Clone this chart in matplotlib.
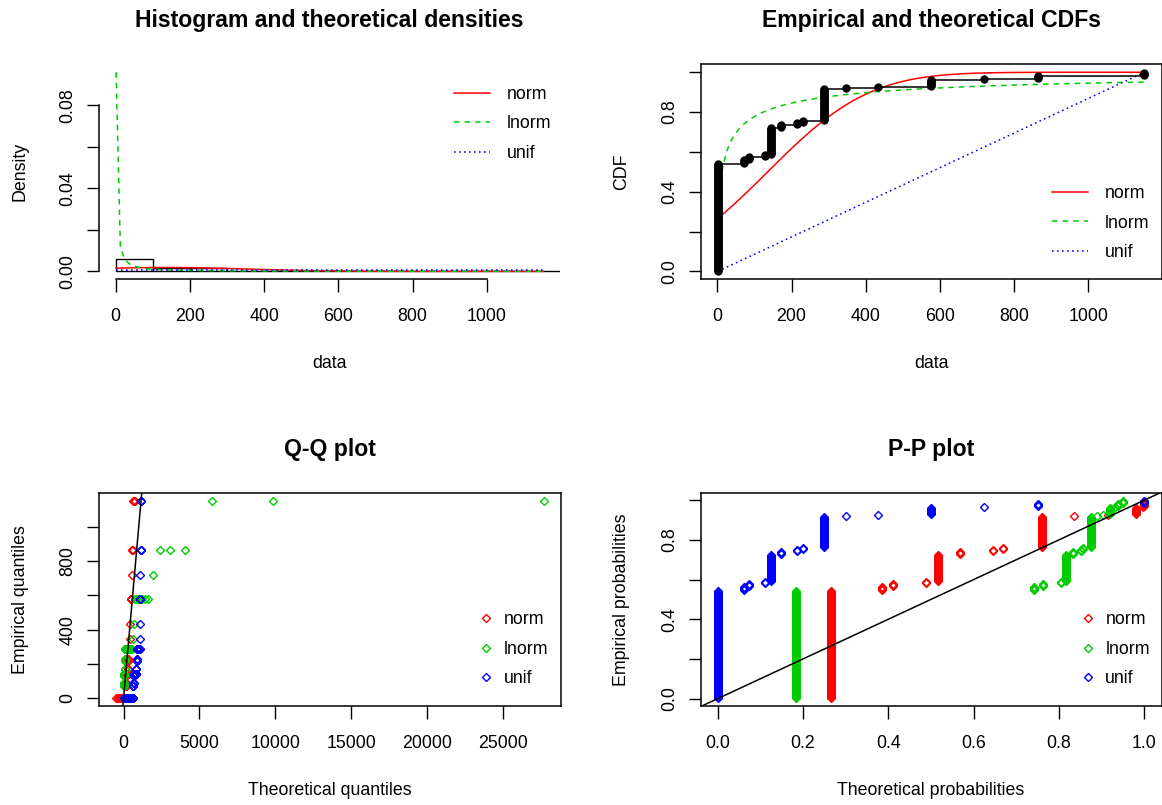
import numpy as np
import matplotlib
matplotlib.use("Agg")
import matplotlib.pyplot as plt
from statistics import NormalDist

# observed sample: distinct values and how often each occurs
obs_values = [1, 72, 86.4, 129.6, 144, 172.8, 216, 230.4, 288, 345.6, 432, 576, 720, 864, 1152]
obs_counts = [108, 4, 3, 2, 27, 3, 2, 2, 32, 1, 1, 7, 1, 3, 3]

dist_names = ["norm", "lnorm", "unif"]
hist_breaks = [0, 100, 200, 300, 400, 500, 600, 700, 800, 900, 1000, 1100, 1200]

dens_ticks = [0, 0.02, 0.04, 0.06, 0.08]
dens_labels = ["0.00", "", "0.04", "", "0.08"]
prob_ticks = [0, 0.2, 0.4, 0.6, 0.8, 1.0]
prob_labels = ["0.0", "", "0.4", "", "0.8", ""]
pp_xlabels = ["0.0", "0.2", "0.4", "0.6", "0.8", "1.0"]
data_ticks = [0, 200, 400, 600, 800, 1000]
qq_xticks = [0, 5000, 10000, 15000, 20000, 25000]
qq_yticks = [0, 200, 400, 600, 800, 1000]
qq_ylabels = ["0", "", "400", "", "800", ""]

colors = ["#FF0000", "#00CD00", "#0000FF"]
styles = ["-", (0, (4.0, 3.6)), (0, (1.2, 2.4))]

plt.rcParams['font.family'] = ['Liberation Sans', 'DejaVu Sans']
plt.rcParams['lines.scale_dashes'] = False

W, H = 1162, 805
FS = 12.8

# ---- fits (maximum likelihood, as fitdistr does)
data = np.sort(np.repeat(obs_values, obs_counts))
n = len(data)
pp = (np.arange(1, n + 1) - 0.5) / n
mu, sd = data.mean(), data.std()
logd = np.log(data)
mlog, slog = logd.mean(), logd.std()
umin, umax = data.min(), data.max()
nd = NormalDist(mu, sd)
ld = NormalDist(mlog, slog)


def pdf(k, x):
    if k == 0:
        return np.array([nd.pdf(v) for v in x])
    if k == 1:
        return np.array([ld.pdf(np.log(v)) / v for v in x])
    return np.where((x >= umin) & (x <= umax), 1.0 / (umax - umin), 0.0)


def cdf(k, x):
    if k == 0:
        return np.array([nd.cdf(v) for v in x])
    if k == 1:
        return np.array([ld.cdf(np.log(v)) for v in x])
    return np.clip((x - umin) / (umax - umin), 0, 1)


def qf(k, p):
    if k == 0:
        return np.array([nd.inv_cdf(v) for v in p])
    if k == 1:
        return np.exp([ld.inv_cdf(v) for v in p])
    return umin + p * (umax - umin)


def rlim(lo, hi):
    d = (hi - lo) * 0.04
    return lo - d, hi + d


def px_axes(l, t, r, b):
    return fig.add_axes([l / W, 1 - b / H, (r - l) / W, (b - t) / H])


def style_axes(ax):
    ax.tick_params(direction='out', length=9, width=1.0, labelsize=FS)
    ax.tick_params(axis='x', pad=12)
    ax.tick_params(axis='y', pad=7.5)
    for sp in ax.spines.values():
        sp.set_linewidth(1.1)


def ylabels_rot(ax, ticks, labels):
    ax.set_yticks(ticks)
    ax.set_yticklabels(labels, rotation=90, va='center', ha='right')


def add_legend(ax, handles, x, y, markers=False):
    if markers:
        hl, hp = 1.0, 0.5
    else:
        hl, hp = 2.05, 0.95
    ax.legend(handles, dist_names, loc='center left',
              bbox_to_anchor=(x / W, 1 - y / H), bbox_transform=fig.transFigure,
              frameon=False, borderpad=0, borderaxespad=0, handlelength=hl,
              handletextpad=hp, labelspacing=0.7, fontsize=FS, numpoints=1)


def labels(ax_box, title, xlabel, ylabel):
    l, t, r, b = ax_box
    fig.text((l + r) / 2 / W, 1 - (t - 37) / H, title, ha='center', va='baseline',
             fontsize=16.6, fontweight='bold')
    fig.text((l + r) / 2 / W, 1 - (b + 88.7) / H, xlabel, ha='center', va='baseline',
             fontsize=FS)
    fig.text((l - 74.5) / W, 1 - (t + b) / 2 / H, ylabel, rotation=90,
             rotation_mode='anchor', ha='center', va='baseline', fontsize=FS)


fig = plt.figure(figsize=(W / 100, H / 100), dpi=100)
fig.patch.set_facecolor('white')

box1 = (99, 64.3, 560.4, 279.3)
box2 = (700.7, 64.3, 1161.5, 279.3)
box3 = (99.3, 492.7, 561.3, 706)
box4 = (700.7, 492.7, 1161.5, 706)

# ---- histogram and densities
ax = px_axes(*box1)
grid = np.linspace(umin, umax, 101)
hist_h, _ = np.histogram(data, bins=hist_breaks, density=True)
ax.hist(data, bins=hist_breaks, density=True, histtype='bar', fill=False,
        edgecolor='black', linewidth=1.0)
hnd = []
top = hist_h.max()
for k in range(3):
    yk = pdf(k, grid)
    top = max(top, yk.max())
    h, = ax.plot(grid, yk, color=colors[k], linestyle=styles[k], lw=1.1)
    hnd.append(h)
ax.set_xlim(*rlim(umin, umax))
ax.set_ylim(*rlim(0, top))
ax.spines['top'].set_visible(False)
ax.spines['right'].set_visible(False)
ax.spines['left'].set_bounds(0, 0.08)
ax.spines['bottom'].set_bounds(0, 1000)
ax.set_xticks(data_ticks)
ylabels_rot(ax, dens_ticks, dens_labels)
style_axes(ax)
add_legend(ax, hnd, 453.5, 124)
labels(box1, "Histogram and theoretical densities", "data", "Density")

# ---- empirical and theoretical CDFs
ax = px_axes(*box2)
hnd = []
for k in range(3):
    h, = ax.plot(grid, cdf(k, grid), color=colors[k], linestyle=styles[k], lw=1.1)
    hnd.append(h)
ax.step(data, pp, where='post', color='black', lw=1.1)
ax.plot(data, pp, 'o', color='black', ms=5.0)
ax.set_xlim(*rlim(umin, umax))
ax.set_ylim(*rlim(0, 1))
ax.set_xticks(data_ticks)
ylabels_rot(ax, prob_ticks, prob_labels)
style_axes(ax)
add_legend(ax, hnd, 1051.7, 223)
labels(box2, "Empirical and theoretical CDFs", "data", "CDF")

# ---- Q-Q plot
ax = px_axes(*box3)
hnd = []
allq = []
for k in range(3):
    q = qf(k, pp)
    allq.append(q)
    h, = ax.plot(q, data, linestyle='none', marker='D', mfc='none', mec=colors[k],
                 ms=4.3, mew=1.0)
    hnd.append(h)
allq = np.concatenate(allq)
ax.axline((0, 0), slope=1, color='black', lw=1.1)
ax.set_xlim(*rlim(allq.min(), allq.max()))
ax.set_ylim(*rlim(umin, umax))
ax.set_xticks(qq_xticks)
ylabels_rot(ax, qq_yticks, qq_ylabels)
style_axes(ax)
add_legend(ax, hnd, 477, 649.3, markers=True)
labels(box3, "Q-Q plot", "Theoretical quantiles", "Empirical quantiles")

# ---- P-P plot
ax = px_axes(*box4)
hnd = []
allp = []
for k in range(3):
    p = cdf(k, data)
    allp.append(p)
    h, = ax.plot(p, pp, linestyle='none', marker='D', mfc='none', mec=colors[k],
                 ms=4.3, mew=1.0)
    hnd.append(h)
allp = np.concatenate(allp)
ax.axline((0, 0), slope=1, color='black', lw=1.1)
ax.set_xlim(*rlim(allp.min(), allp.max()))
ax.set_ylim(*rlim(pp.min(), pp.max()))
ax.set_xticks(prob_ticks)
ax.set_xticklabels(pp_xlabels)
ylabels_rot(ax, prob_ticks, prob_labels)
style_axes(ax)
add_legend(ax, hnd, 1078.7, 649.3, markers=True)
labels(box4, "P-P plot", "Theoretical probabilities", "Empirical probabilities")

fig.savefig("out.png", dpi=100)
